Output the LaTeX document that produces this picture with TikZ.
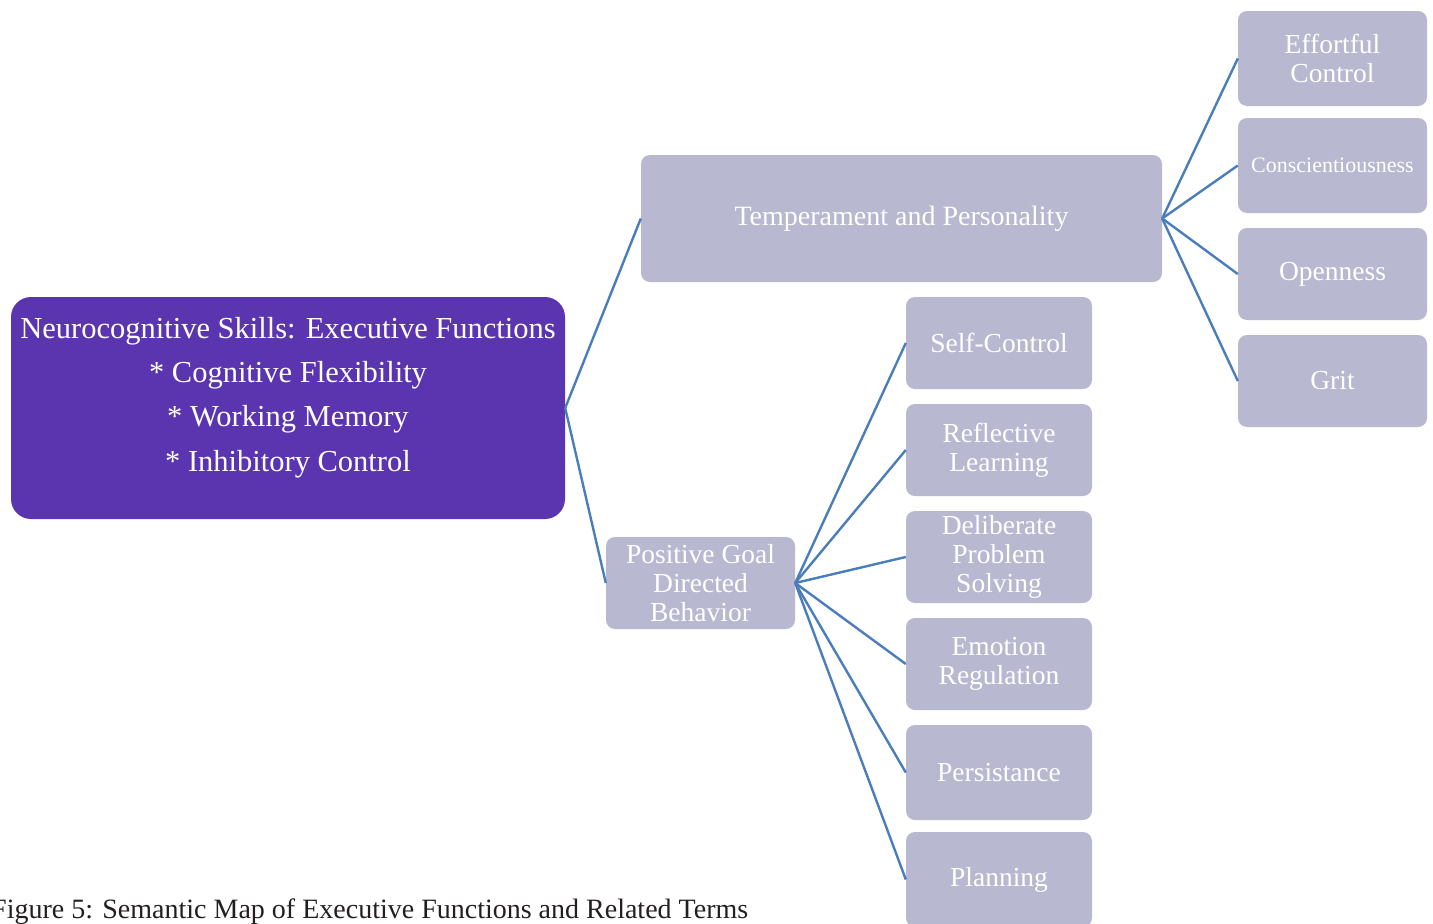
\documentclass[tikz,border=0pt]{standalone}
\usepackage{fontspec}
\setmainfont{Liberation Serif}
\definecolor{mainpurple}{RGB}{91,53,175}
\definecolor{lav}{RGB}{184,184,209}
\definecolor{linkblue}{RGB}{74,126,187}
\definecolor{captiongray}{RGB}{35,31,32}
\begin{document}
\begin{tikzpicture}[x=1pt,y=-1pt,
  mainbox/.style={fill=mainpurple, rounded corners=20pt, text=white, align=center, inner sep=0pt},
  lavbox/.style={fill=lav, rounded corners=9pt, text=white, align=center, inner sep=0pt,
    font=\fontsize{27.5}{29}\selectfont},
  link/.style={draw=linkblue, line width=2.4pt},
  ]
\useasboundingbox (0,0) rectangle (1433,924);
% main node
\node[mainbox, minimum width=554pt, minimum height=222pt] (main) at (288,408) {};
\node[text=white, align=center, inner sep=0pt, font=\fontsize{30.5}{44.3}\selectfont, anchor=north] (maintext) at (288,317)
  {Neurocognitive Skills: Executive Functions\\ * Cognitive Flexibility\\ * Working Memory\\ * Inhibitory Control};
% second level
\node[lavbox, minimum width=521pt, minimum height=127pt, font=\fontsize{28}{30}\selectfont] (temp) at (901.5,218.5) {Temperament and Personality};
\node[lavbox, minimum width=189pt, minimum height=92pt] (pos) at (700.5,583) {Positive Goal\\Directed\\Behavior};
% right column
\node[lavbox, minimum width=189pt, minimum height=95pt] (eff) at (1332.5,58.5) {Effortful\\Control};
\node[lavbox, minimum width=189pt, minimum height=95pt, font=\fontsize{22}{24}\selectfont] (cons) at (1332.5,165.5) {Conscientiousness};
\node[lavbox, minimum width=189pt, minimum height=92pt] (open) at (1332.5,274) {Openness};
\node[lavbox, minimum width=189pt, minimum height=92pt] (grit) at (1332.5,381) {Grit};
% middle column
\node[lavbox, minimum width=186pt, minimum height=92pt] (self) at (999,343) {Self-Control};
\node[lavbox, minimum width=186pt, minimum height=92pt] (refl) at (999,450) {Reflective\\Learning};
\node[lavbox, minimum width=186pt, minimum height=92pt] (delib) at (999,557) {Deliberate\\Problem\\Solving};
\node[lavbox, minimum width=186pt, minimum height=92pt] (emo) at (999,664) {Emotion\\Regulation};
\node[lavbox, minimum width=186pt, minimum height=95pt] (pers) at (999,772.5) {Persistance};
\node[lavbox, minimum width=186pt, minimum height=95pt] (plan) at (999,879.5) {Planning};
% connectors
\draw[link] (main.east) -- (temp.west);
\draw[link] (main.east) -- (pos.west);
\foreach \t in {eff,cons,open,grit} \draw[link] (temp.east) -- (\t.west);
\foreach \t in {self,refl,delib,emo,pers,plan} \draw[link] (pos.east) -- (\t.west);
% caption
\node[anchor=base west, inner sep=0pt, text=captiongray, font=\fontsize{28}{30}\selectfont] (caption) at (-9,918)
  {Figure 5: Semantic Map of Executive Functions and Related Terms};
\end{tikzpicture}
\end{document}
